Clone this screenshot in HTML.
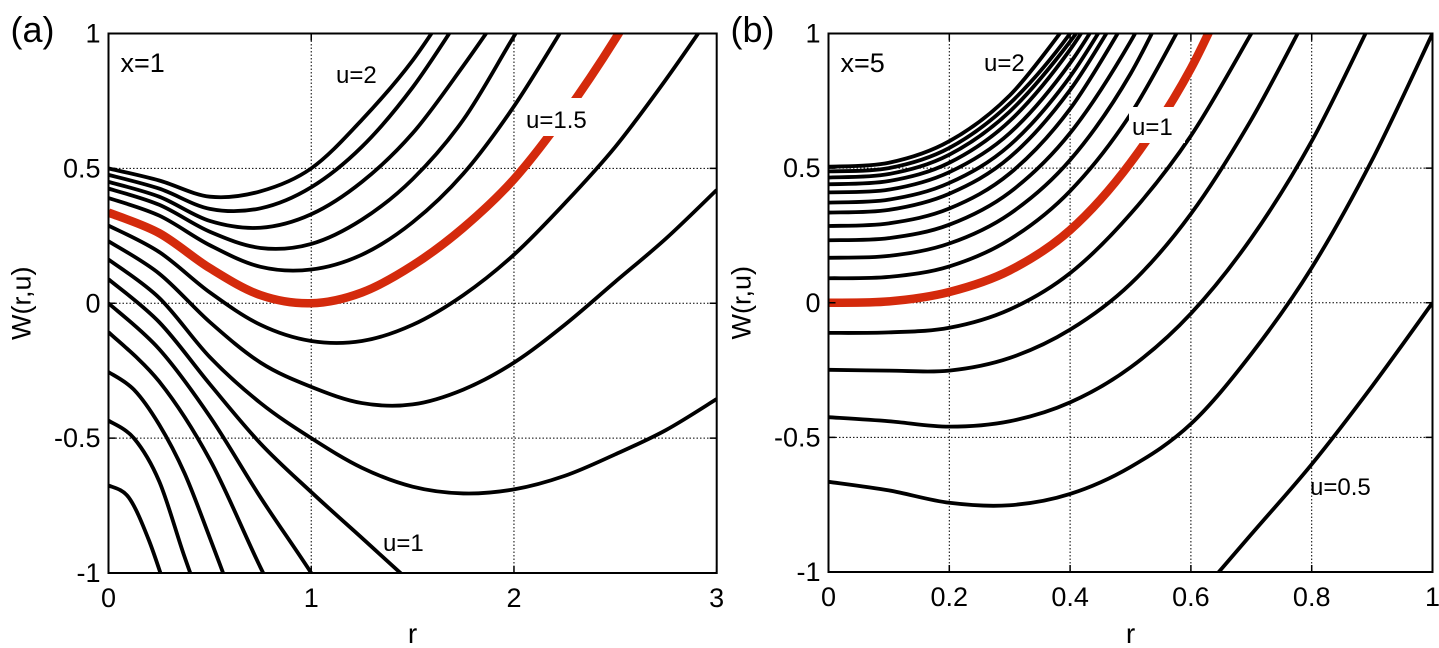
<!DOCTYPE html>
<html><head><meta charset="utf-8"><style>
html,body{margin:0;padding:0;background:#fff;}
svg{display:block;font-family:"Liberation Sans",Arial,sans-serif;}
</style></head><body>
<svg id="chart" width="1439" height="648" viewBox="0 0 1439 648" xmlns="http://www.w3.org/2000/svg">
<defs>
<clipPath id="clipA"><rect x="108.5" y="33.5" width="608.5" height="539.5"/></clipPath>
<clipPath id="clipB"><rect x="828.5" y="33.5" width="604" height="539.5"/></clipPath>
</defs>
<g id="panelA"></g>
<g id="panelB"></g>
</svg>
<script>
// ---- Panel (a) data: x=1 ----
const aXTicks = [0, 1, 2, 3];
const aXTickLabels = ["0", "1", "2", "3"];
const yTicks = [-1, -0.5, 0, 0.5, 1];
const yTickLabels = ["-1", "-0.5", "0", "0.5", "1"];
const aR1 = [0,0.25,0.5,0.75,1,1.25,1.5,1.75];
const aW1 = [0.5,0.455,0.395,0.415,0.5,0.68,0.9,1.18];
const aR2 = [0,0.25,0.5,0.75,1,1.25,1.5,1.75];
const aW2 = [0.476,0.425,0.35,0.352,0.43,0.58,0.8,1.08];
const aR3 = [0,0.25,0.5,0.75,1,1.25,1.5,1.75,2];
const aW3 = [0.45,0.395,0.305,0.28,0.33,0.45,0.63,0.88,1.15];
const aR4 = [0,0.25,0.5,0.75,1,1.25,1.5,1.75,2,2.25];
const aW4 = [0.425,0.365,0.265,0.205,0.22,0.31,0.46,0.68,0.99,1.3];
const aR5 = [0,0.25,0.5,0.75,1,1.25,1.5,1.75,2,2.25];
const aW5 = [0.39,0.325,0.215,0.135,0.125,0.18,0.3,0.48,0.73,1.03];
const aRRed = [0,0.25,0.5,0.75,1,1.25,1.5,1.75,2,2.25,2.5,2.75];
const aWRed = [0.336,0.26,0.13,0.03,0,0.04,0.14,0.28,0.46,0.7,0.98,1.3];
const aR6 = [0,0.25,0.5,0.75,1,1.25,1.5,1.75,2,2.25,2.5,2.75,3];
const aW6 = [0.288,0.19,0.04,-0.08,-0.14,-0.14,-0.08,0.03,0.18,0.37,0.58,0.83,1.1];
const aR7 = [0,0.25,0.5,0.75,1,1.25,1.5,1.75,2,2.25,2.5,2.75,3];
const aW7 = [0.23,0.11,-0.07,-0.22,-0.31,-0.37,-0.375,-0.32,-0.22,-0.08,0.08,0.24,0.42];
const aR8 = [0,0.25,0.5,0.75,1,1.25,1.5,1.75,2,2.25,2.5,2.75,3];
const aW8 = [0.162,0.02,-0.2,-0.37,-0.5,-0.61,-0.68,-0.705,-0.69,-0.64,-0.56,-0.47,-0.355];
const aR9 = [0,0.25,0.5,0.75,1,1.25,1.5,1.75];
const aW9 = [0.089,-0.07,-0.3,-0.52,-0.7,-0.87,-1.04,-1.2];
const aR10 = [0,0.25,0.5,0.75,1,1.25];
const aW10 = [0,-0.17,-0.42,-0.72,-1.0,-1.3];
const aR11 = [0,0.25,0.5,0.75,1];
const aW11 = [-0.107,-0.29,-0.58,-0.98,-1.35];
const aR12 = [0,0.125,0.25,0.375,0.5,0.625];
const aW12 = [-0.255,-0.32,-0.45,-0.63,-0.87,-1.12];
const aR13 = [0,0.125,0.25,0.375,0.5];
const aW13 = [-0.435,-0.5,-0.66,-0.94,-1.2];
const aR14 = [0,0.1,0.2,0.3];
const aW14 = [-0.675,-0.72,-0.88,-1.1];

// ---- Panel (b) data: x=5 ----
const bXTicks = [0, 0.2, 0.4, 0.6, 0.8, 1];
const bXTickLabels = ["0", "0.2", "0.4", "0.6", "0.8", "1"];
const bR = [0,0.1,0.2,0.3,0.4,0.5,0.6,0.7,0.8,0.9,1.0];
const bW1 = [0.505,0.52,0.6,0.77,1.05];
const bW2 = [0.488,0.5,0.575,0.74,1.0,1.35];
const bW3 = [0.465,0.478,0.55,0.71,0.97,1.3];
const bW4 = [0.44,0.452,0.52,0.675,0.94,1.3];
const bW5 = [0.41,0.42,0.485,0.63,0.89,1.25];
const bW6 = [0.372,0.383,0.445,0.585,0.84,1.2];
const bW7 = [0.335,0.345,0.405,0.54,0.79,1.15];
const bW8 = [0.285,0.295,0.35,0.48,0.72,1.08];
const bW9 = [0.232,0.24,0.29,0.41,0.63,0.97,1.4];
const bW10 = [0.167,0.174,0.22,0.33,0.53,0.85,1.3];
const bW11 = [0.091,0.096,0.135,0.235,0.415,0.7,1.1];
const bWRed = [0,0.005,0.04,0.12,0.27,0.52,0.87,1.35];
const bW12 = [-0.112,-0.11,-0.093,-0.025,0.11,0.33,0.62,1.0];
const bW13 = [-0.249,-0.252,-0.252,-0.205,-0.1,0.07,0.33,0.68,1.1];
const bW14 = [-0.425,-0.44,-0.46,-0.44,-0.37,-0.24,-0.04,0.24,0.6,1.05];
const bW15 = [-0.665,-0.697,-0.743,-0.752,-0.71,-0.61,-0.45,-0.19,0.13,0.53,1.0];
const bR16 = [0.6,0.7,0.8,0.9,1.0];
const bW16 = [-1.12,-0.86,-0.6,-0.31,0.0];

const NS = "http://www.w3.org/2000/svg";
function mk(tag, attrs, parent){const e=document.createElementNS(NS,tag);for(const k in attrs)e.setAttribute(k,attrs[k]);parent.appendChild(e);return e;}

function smoothPath(pts){
  let d = "M"+pts[0][0].toFixed(2)+","+pts[0][1].toFixed(2);
  for(let i=0;i<pts.length-1;i++){
    const p0=pts[Math.max(0,i-1)], p1=pts[i], p2=pts[i+1], p3=pts[Math.min(pts.length-1,i+2)];
    const c1x=p1[0]+(p2[0]-p0[0])/6, c1y=p1[1]+(p2[1]-p0[1])/6;
    const c2x=p2[0]-(p3[0]-p1[0])/6, c2y=p2[1]-(p3[1]-p1[1])/6;
    d+=" C"+c1x.toFixed(2)+","+c1y.toFixed(2)+" "+c2x.toFixed(2)+","+c2y.toFixed(2)+" "+p2[0].toFixed(2)+","+p2[1].toFixed(2);
  }
  return d;
}

function panel(g, cfg){
  const X = v => cfg.x0 + (v - cfg.xmin)/(cfg.xmax - cfg.xmin)*(cfg.x1 - cfg.x0);
  const Y = v => cfg.y1 - (v + 1)/2*(cfg.y1 - cfg.y0);
  const grid = mk("g",{},g);
  
  
  cfg.xticks.forEach(t=>{ if(t>cfg.xmin && t<cfg.xmax) mk("line",{x1:X(t),x2:X(t),y1:cfg.y0,y2:cfg.y1,stroke:"#000","stroke-width":1,"stroke-dasharray":"1.5,2"},grid); });
  yTicks.forEach(t=>{ if(t>-1 && t<1) mk("line",{x1:cfg.x0,x2:cfg.x1,y1:Y(t),y2:Y(t),stroke:"#000","stroke-width":1,"stroke-dasharray":"1.5,2"},grid); });
  const cg = mk("g",{"clip-path":"url(#"+cfg.clip+")"},g);
  
  
  cfg.series.forEach((s,i)=>{
    const pts = s.r.map((r,j)=>[X(r),Y(s.w[j])]);
    const p = mk("path",{d:smoothPath(pts),fill:"none",stroke:s.red?"#d42a0c":"#000","stroke-width":s.red?8.5:3.8,"stroke-linejoin":"round"},cg);
    
    
  });
  const box = mk("rect",{x:cfg.x0,y:cfg.y0,width:cfg.x1-cfg.x0,height:cfg.y1-cfg.y0,fill:"none",stroke:"#000","stroke-width":2},g);
  
  
  cfg.xticks.forEach((t,i)=>{
    mk("line",{x1:X(t),x2:X(t),y1:cfg.y1,y2:cfg.y1-7,stroke:"#000","stroke-width":1.5},g);
    mk("line",{x1:X(t),x2:X(t),y1:cfg.y0,y2:cfg.y0+7,stroke:"#000","stroke-width":1.5},g);
    const tx = mk("text",{x:X(t),y:cfg.y1+34,"text-anchor":"middle","font-size":27},g);
    tx.textContent = cfg.xlabels[i];
    
    
  });
  yTicks.forEach((t,i)=>{
    mk("line",{x1:cfg.x0,x2:cfg.x0+7,y1:Y(t),y2:Y(t),stroke:"#000","stroke-width":1.5},g);
    mk("line",{x1:cfg.x1,x2:cfg.x1-7,y1:Y(t),y2:Y(t),stroke:"#000","stroke-width":1.5},g);
    const ty = mk("text",{x:cfg.x0-8,y:Y(t)+9,"text-anchor":"end","font-size":27},g);
    ty.textContent = yTickLabels[i];
    
    
  });
  const xt = mk("text",{x:(cfg.x0+cfg.x1)/2,y:643,"text-anchor":"middle","font-size":28},g);
  xt.textContent="r";
  
  
  const yt = mk("text",{x:0,y:0,"text-anchor":"middle","font-size":27,transform:"translate("+(cfg.x0-78)+","+((cfg.y0+cfg.y1)/2)+") rotate(-90)"},g);
  yt.textContent="W(r,u)";
  
  
  const pl = mk("text",{x:cfg.x0-98,y:42,"font-size":36},g);
  pl.textContent=cfg.tag;
  
  
  const xl = mk("text",{x:cfg.x0+12,y:72,"font-size":27},g);
  xl.textContent=cfg.param;
  
  
  cfg.notes.forEach(n=>{
    if(n.bg){ const r=mk("rect",{x:n.x-3,y:n.y-n.h,width:n.w,height:n.h+8,fill:"#fff"},g);
      
       }
    const t=mk("text",{x:n.x,y:n.y,"font-size":24},g);
    t.textContent=n.t;
    
    
  });
}

panel(document.getElementById("panelA"),{
  x0:108.5,x1:716.7,y0:33.5,y1:573,xmin:0,xmax:3,clip:"clipA",
  xticks:aXTicks,xlabels:aXTickLabels,tag:"(a)",param:"x=1",
  series:[{r:aR1,w:aW1},{r:aR2,w:aW2},{r:aR3,w:aW3},{r:aR4,w:aW4},{r:aR5,w:aW5},
    {r:aR6,w:aW6},{r:aR7,w:aW7},{r:aR8,w:aW8},{r:aR9,w:aW9},{r:aR10,w:aW10},
    {r:aR11,w:aW11},{r:aR12,w:aW12},{r:aR13,w:aW13},{r:aR14,w:aW14},{r:aRRed,w:aWRed,red:true}],
  notes:[{t:"u=2",x:336,y:83,bg:false},{t:"u=1.5",x:526,y:128,bg:true,w:74,h:30},{t:"u=1",x:383,y:551,bg:false}]
});
panel(document.getElementById("panelB"),{
  x0:828.5,x1:1432.5,y0:33.5,y1:572,xmin:0,xmax:1,clip:"clipB",
  xticks:bXTicks,xlabels:bXTickLabels,tag:"(b)",param:"x=5",
  series:[bW1,bW2,bW3,bW4,bW5,bW6,bW7,bW8,bW9,bW10,bW11,bW12,bW13,bW14,bW15].map(w=>({r:bR.slice(0,w.length),w:w}))
    .concat([{r:bR16,w:bW16},{r:bR.slice(0,bWRed.length),w:bWRed,red:true}]),
  notes:[{t:"u=2",x:984,y:71,bg:false},{t:"u=1",x:1132,y:135,bg:true,w:56,h:28},{t:"u=0.5",x:1310,y:495,bg:false}]
});
</script>
</body></html>
